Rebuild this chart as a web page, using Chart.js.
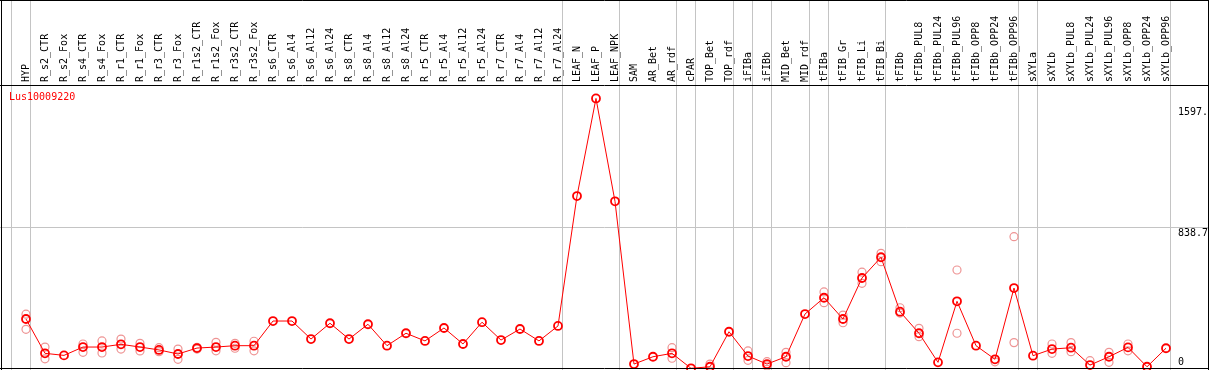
<!DOCTYPE html>
<html lang="en">
<head>
<meta charset="UTF-8">
<title>Lus10009220</title>
<script src="https://cdn.jsdelivr.net/npm/chart.js"></script>
<style>
  html, body { margin: 0; padding: 0; background: #fff; }
  canvas { display: block; }
</style>
</head>
<body>
<canvas id="expr" width="1209" height="370"></canvas>
<script>
// sample names, left to right
const samples = [
  'HYP', 'R_s2_CTR', 'R_s2_Fox', 'R_s4_CTR', 'R_s4_Fox', 'R_r1_CTR', 'R_r1_Fox', 'R_r3_CTR', 'R_r3_Fox',
  'R_r1s2_CTR', 'R_r1s2_Fox', 'R_r3s2_CTR', 'R_r3s2_Fox', 'R_s6_CTR', 'R_s6_Al4', 'R_s6_Al12', 'R_s6_Al24',
  'R_s8_CTR', 'R_s8_Al4', 'R_s8_Al12', 'R_s8_Al24', 'R_r5_CTR', 'R_r5_Al4', 'R_r5_Al12', 'R_r5_Al24',
  'R_r7_CTR', 'R_r7_Al4', 'R_r7_Al12', 'R_r7_Al24', 'LEAF_N', 'LEAF_P', 'LEAF_NPK', 'SAM', 'AR_Bet', 'AR_rdf',
  'cPAR', 'TOP_Bet', 'TOP_rdf', 'iFIBa', 'iFIBb', 'MID_Bet', 'MID_rdf', 'tFIBa', 'tFIB_Gr', 'tFIB_Li', 'tFIB_Bi',
  'tFIBb', 'tFIBb_PUL8', 'tFIBb_PUL24', 'tFIBb_PUL96', 'tFIBb_OPP8', 'tFIBb_OPP24', 'tFIBb_OPP96',
  'sXYLa', 'sXYLb', 'sXYLb_PUL8', 'sXYLb_PUL24', 'sXYLb_PUL96', 'sXYLb_OPP8', 'sXYLb_OPP24', 'sXYLb_OPP96'
];

// mean expression per sample
const meanExpr = [
  300, 98, 86, 135, 135, 151, 135, 118, 94, 129,
  135, 143, 143, 288, 288, 182, 275, 182, 269, 143,
  216, 171, 247, 153, 281, 176, 241, 171, 259, 1023,
  1597, 992, 35, 78, 98, 10, 19, 225, 82, 35,
  78, 329, 425, 300, 541, 663, 343, 216, 45, 404,
  143, 63, 482, 84, 123, 131, 29, 78, 133, 19, 128
];

// replicate values (only where they stand apart from the mean)
const repHigh = [
  328, 135, null, 153, 171, 182, 157, 131, 123, 133,
  163, 157, 169, null, null, null, null, null, null, null,
  null, null, null, null, null, null, null, null, null, null,
  null, null, null, null, 131, null, 35, null, 112, 49,
  104, null, 459, 323, 575, 686, 366, 245, null, 588,
  null, null, 784, null, 153, 161, 55, 104, 153, null, null
];
const repLow = [
  239, 66, null, 104, 100, 123, 112, 108, 63, 123,
  113, 128, 113, null, null, null, null, null, null, null,
  null, null, null, null, null, null, null, null, null, null,
  null, null, null, null, 69, null, null, null, 57, 24,
  43, null, 396, 278, 510, 637, 335, 196, null, 216,
  null, 48, 161, null, 98, 108, null, 45, 113, null, null
];

// gray separator after each of these sample indices
const groupEnds = [-1, 0, 28, 31, 34, 35, 37, 38, 39, 41, 42, 45, 52, 53, 60];

const yTickValues = [0, 838.7, 1597];
const yTickLabels = ['0', '838.7', '1597.'];
const geneName = 'Lus10009220';

const FONT = '10px "DejaVu Sans Mono", monospace';

const toPoints = arr => arr.map((v, i) => ({ x: i, y: v }));

const framePlugin = {
  id: 'frame',
  beforeDraw(chart) {
    const ctx = chart.ctx;
    ctx.save();
    ctx.fillStyle = '#fff';
    ctx.fillRect(0, 0, chart.width, chart.height);
    ctx.restore();
  },
  beforeDatasetsDraw(chart) {
    const { ctx, chartArea: a } = chart;
    const x = chart.scales.x, y = chart.scales.y;
    ctx.save();
    ctx.strokeStyle = '#c4c4c4';
    ctx.lineWidth = 1;
    ctx.beginPath();
    groupEnds.forEach(i => {
      const px = Math.round(x.getPixelForValue(i + 0.22)) + 0.5;
      ctx.moveTo(px, 0);
      ctx.lineTo(px, chart.height);
    });
    yTickValues.slice(1, -1).forEach(v => {
      const py = Math.round(y.getPixelForValue(v)) + 0.5;
      ctx.moveTo(a.left, py);
      ctx.lineTo(a.right, py);
    });
    ctx.stroke();
    ctx.restore();
  },
  afterDraw(chart) {
    const { ctx, chartArea: a } = chart;
    const x = chart.scales.x, y = chart.scales.y;
    ctx.save();
    ctx.font = FONT;

    // value labels on the right
    const lx = Math.round(x.getPixelForValue(groupEnds[groupEnds.length - 1] + 0.22)) + 8;
    yTickValues.forEach((v, i) => {
      let py = y.getPixelForValue(v);
      ctx.textAlign = 'left';
      if (i === 0) {
        ctx.textBaseline = 'bottom';
        py = Math.min(py, a.bottom) - 3;
      } else if (i === yTickValues.length - 1) {
        ctx.textBaseline = 'top';
        py = py + 9;
      } else {
        ctx.textBaseline = 'top';
        py = py + 1;
      }
      const w = ctx.measureText(yTickLabels[i]).width;
      ctx.fillStyle = '#fff';
      ctx.fillRect(lx - 1, py - (ctx.textBaseline === 'bottom' ? 10 : 0), w + 2, 10);
      ctx.fillStyle = '#000';
      ctx.fillText(yTickLabels[i], lx, py);
    });

    // gene name
    ctx.fillStyle = '#ff0000';
    ctx.textAlign = 'left';
    ctx.textBaseline = 'middle';
    ctx.fillText(geneName, a.left + 9, a.top + 12);

    // black frame
    ctx.strokeStyle = '#000';
    ctx.lineWidth = 1;
    ctx.beginPath();
    ctx.moveTo(0, 0.5); ctx.lineTo(chart.width, 0.5);
    ctx.moveTo(0, a.top + 0.5); ctx.lineTo(chart.width, a.top + 0.5);
    ctx.moveTo(0, chart.height - 1.5); ctx.lineTo(chart.width, chart.height - 1.5);
    ctx.moveTo(1.5, 0); ctx.lineTo(1.5, chart.height);
    ctx.moveTo(chart.width - 0.5, 0); ctx.lineTo(chart.width - 0.5, chart.height);
    ctx.stroke();
    ctx.restore();
  }
};

const repStyle = {
  type: 'line',
  showLine: false,
  pointRadius: 4,
  pointBorderWidth: 1.2,
  pointBorderColor: '#ee9494',
  pointBackgroundColor: 'transparent',
  pointHoverRadius: 4
};

new Chart(document.getElementById('expr'), {
  type: 'line',
  data: {
    datasets: [
      {
        label: geneName,
        data: toPoints(meanExpr),
        borderColor: '#ff0000',
        borderWidth: 1,
        pointRadius: 4,
        pointBorderWidth: 1.8,
        pointBorderColor: '#ff0000',
        pointBackgroundColor: 'transparent',
        tension: 0
      },
      Object.assign({ label: 'rep high', data: toPoints(repHigh) }, repStyle),
      Object.assign({ label: 'rep low', data: toPoints(repLow) }, repStyle)
    ]
  },
  options: {
    responsive: false,
    animation: false,
    events: [],
    layout: { padding: 0, autoPadding: false },
    plugins: { legend: { display: false }, tooltip: { enabled: false } },
    scales: {
      x: {
        type: 'linear',
        position: 'top',
        min: -1.368,
        max: 62.263,
        grid: { display: false, drawTicks: false },
        border: { display: false },
        afterBuildTicks: scale => { scale.ticks = samples.map((s, i) => ({ value: i })); },
        afterFit: scale => {
          scale.height = 85;
          scale.paddingLeft = 0;
          scale.paddingRight = 0;
        },
        ticks: {
          autoSkip: false,
          minRotation: 90,
          maxRotation: 90,
          padding: 3,
          labelOffset: 12,
          color: '#000',
          font: { family: '"DejaVu Sans Mono", monospace', size: 10 },
          callback: v => samples[v]
        }
      },
      y: {
        type: 'linear',
        display: false,
        min: 0,
        max: 1676
      }
    }
  },
  plugins: [framePlugin]
});
</script>
</body>
</html>
